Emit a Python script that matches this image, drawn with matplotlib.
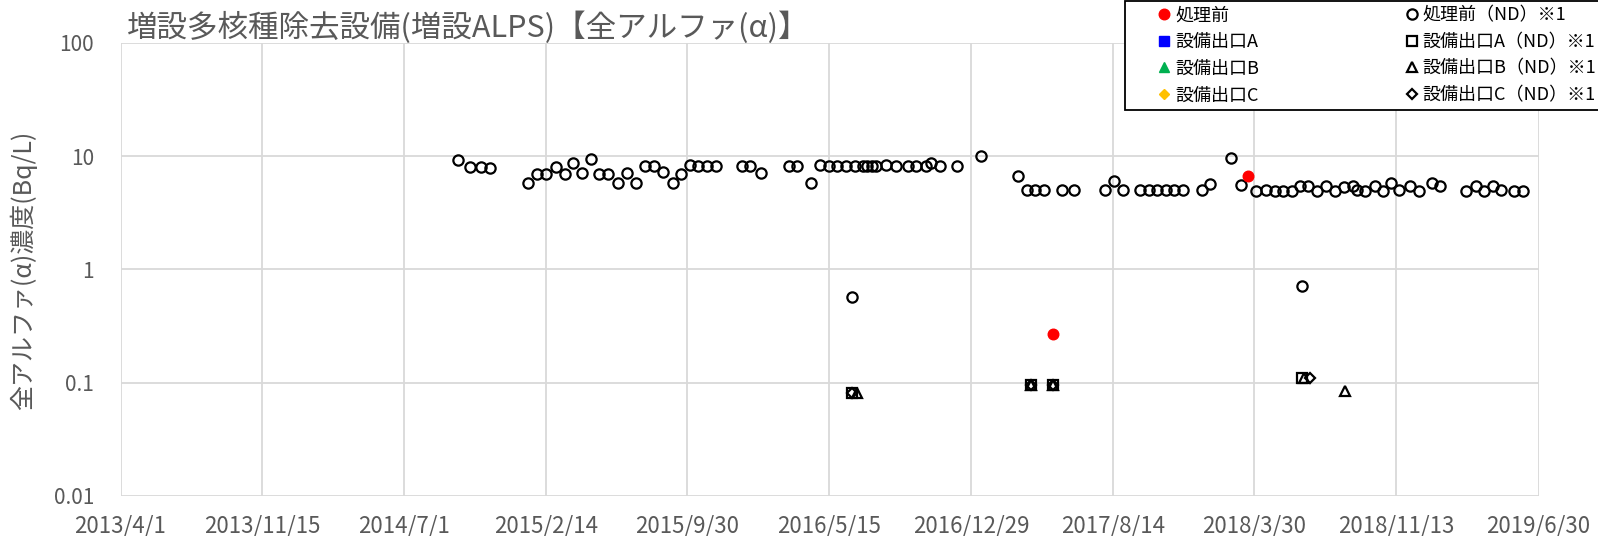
import matplotlib
matplotlib.use('Agg')
import matplotlib.pyplot as plt
import pandas as pd
from matplotlib.lines import Line2D
from matplotlib.legend_handler import HandlerLine2D

plt.rcParams['font.family'] = ['Noto Sans CJK JP', 'DejaVu Sans']

# x axis tick dates (also used as labels)
x_ticks = ['2013/4/1', '2013/11/15', '2014/7/1', '2015/2/14', '2015/9/30', '2016/5/15',
           '2016/12/29', '2017/8/14', '2018/3/30', '2018/11/13', '2019/6/30']
y_ticks = [0.01, 0.1, 1, 10, 100]
y_tick_labels = ['0.01', '0.1', '1', '10', '100']

# 処理前 (ND) - detection limit values
pre_nd_dates = [
    '2014-09-26', '2014-10-16', '2014-11-02', '2014-11-17', '2015-01-17', '2015-01-31',
    '2015-02-14', '2015-03-02', '2015-03-17', '2015-03-30', '2015-04-13', '2015-04-28',
    '2015-05-11', '2015-05-25', '2015-06-10', '2015-06-25', '2015-07-09', '2015-07-23',
    '2015-08-07', '2015-08-21', '2015-09-06', '2015-09-20', '2015-10-04', '2015-10-17',
    '2015-11-01', '2015-11-15', '2015-12-27', '2016-01-09', '2016-01-27', '2016-03-11',
    '2016-03-25', '2016-04-16', '2016-04-30', '2016-05-15', '2016-05-28', '2016-06-11',
    '2016-06-21', '2016-06-25', '2016-07-08', '2016-07-15', '2016-07-23', '2016-07-29',
    '2016-08-15', '2016-08-30', '2016-09-18', '2016-10-02', '2016-10-18', '2016-10-25',
    '2016-11-09', '2016-12-07', '2017-01-15', '2017-03-15', '2017-03-29', '2017-04-11',
    '2017-04-25', '2017-05-24', '2017-06-12', '2017-08-01', '2017-08-16', '2017-08-30',
    '2017-09-27', '2017-10-11', '2017-10-24', '2017-11-07', '2017-11-21', '2017-12-05',
    '2018-01-04', '2018-01-18', '2018-02-21', '2018-03-08', '2018-04-02', '2018-04-17',
    '2018-05-02', '2018-05-15', '2018-05-29', '2018-06-12', '2018-06-15', '2018-06-25',
    '2018-07-09', '2018-07-23', '2018-08-07', '2018-08-21', '2018-09-04', '2018-09-11',
    '2018-09-24', '2018-10-10', '2018-10-23', '2018-11-05', '2018-11-18', '2018-12-05',
    '2018-12-19', '2019-01-10', '2019-01-23', '2019-03-06', '2019-03-21', '2019-04-04',
    '2019-04-18', '2019-04-30', '2019-05-21', '2019-06-05']
pre_nd_values = [
    9.2, 8.0, 8.0, 7.9, 5.8, 7.0,
    7.0, 8.0, 7.0, 8.7, 7.1, 9.5,
    7.0, 7.0, 5.8, 7.1, 5.8, 8.2,
    8.2, 7.3, 5.8, 7.0, 8.4, 8.2,
    8.2, 8.2, 8.2, 8.2, 7.1, 8.2,
    8.2, 5.8, 8.4, 8.2, 8.2, 8.2,
    0.57, 8.2, 8.2, 8.2, 8.2, 8.2,
    8.4, 8.1, 8.2, 8.2, 8.2, 8.6,
    8.2, 8.2, 10.0, 6.7, 5.0, 5.0,
    5.0, 5.0, 5.0, 5.0, 6.0, 5.0,
    5.0, 5.0, 5.0, 5.0, 5.0, 5.0,
    5.0, 5.7, 9.7, 5.5, 4.9, 5.0,
    4.9, 4.9, 4.9, 5.4, 0.71, 5.4,
    4.9, 5.4, 4.9, 5.3, 5.4, 5.0,
    4.9, 5.4, 4.9, 5.8, 5.0, 5.4,
    4.9, 5.8, 5.4, 4.9, 5.4, 4.9,
    5.4, 5.0, 4.9, 4.9]

# 処理前 (detected)
pre_dates = ['2017-05-10', '2018-03-20']
pre_values = [0.27, 6.7]

# 設備出口 A/B/C (ND)
out_a_nd_dates = ['2016-06-21', '2017-04-05', '2017-05-10', '2018-06-14']
out_a_nd_values = [0.081, 0.096, 0.095, 0.11]
out_b_nd_dates = ['2016-06-28', '2017-04-05', '2017-05-10', '2018-06-18', '2018-08-22']
out_b_nd_values = [0.081, 0.096, 0.095, 0.11, 0.085]
out_c_nd_dates = ['2016-06-21', '2017-04-05', '2017-05-10', '2018-06-27']
out_c_nd_values = [0.081, 0.096, 0.095, 0.11]

GRAY = '#595959'
GRID = '#D9D9D9'

fig = plt.figure(figsize=(15.98, 5.36), dpi=100)
ax = fig.add_axes([120.5 / 1598, 1 - 496 / 536, 1418 / 1598, 453.3 / 536])

d = pd.to_datetime
ax.plot(d(pre_dates), pre_values, ls='none', marker='o', ms=7.6, color='#FF0000',
        mec='#FF0000', label='処理前', zorder=4)
ax.plot([], [], ls='none', marker='s', ms=7, color='#0000FF', label='設備出口A')
ax.plot([], [], ls='none', marker='^', ms=7.5, color='#00B050', label='設備出口B')
ax.plot([], [], ls='none', marker='D', ms=5.5, color='#FFC000', label='設備出口C')
ax.plot(d(pre_nd_dates), pre_nd_values, ls='none', marker='o', ms=7.4, mfc='none',
        mec='black', mew=1.6, label='処理前（ND）※1', zorder=3)
ax.plot(d(out_a_nd_dates), out_a_nd_values, ls='none', marker='s', ms=7, mfc='none',
        mec='black', mew=1.6, label='設備出口A（ND）※1', zorder=3)
ax.plot(d(out_b_nd_dates), out_b_nd_values, ls='none', marker='^', ms=7.5, mfc='none',
        mec='black', mew=1.6, label='設備出口B（ND）※1', zorder=3)
ax.plot(d(out_c_nd_dates), out_c_nd_values, ls='none', marker='D', ms=5.5, mfc='none',
        mec='black', mew=1.6, label='設備出口C（ND）※1', zorder=3)

ax.set_yscale('log')
ax.set_ylim(0.01, 100)
ax.set_yticks(y_ticks)
ax.set_yticklabels(y_tick_labels)
ax.minorticks_off()

tick_pos = pd.to_datetime(x_ticks, format='%Y/%m/%d')
ax.set_xlim(tick_pos[0], tick_pos[-1])
ax.set_xticks(tick_pos)
ax.set_xticklabels(x_ticks)

ax.grid(True, color=GRID, lw=1.3)
ax.set_axisbelow(True)
for s in ax.spines.values():
    s.set_visible(False)
ax.tick_params(axis='both', length=0, labelcolor=GRAY)
ax.tick_params(axis='y', pad=19, labelsize=15)
ax.tick_params(axis='x', pad=13, labelsize=16)

fig.text(127 / 1598, 1 - 27.5 / 536, '増設多核種除去設備(増設ALPS)【全アルファ(α)】',
         fontsize=22, color=GRAY, ha='left', va='center')
fig.text(23 / 1598, 1 - 270 / 536, '全アルファ(α)濃度(Bq/L)', fontsize=18,
         color=GRAY, rotation=90, ha='center', va='center')

handles, labels = ax.get_legend_handles_labels()
leg = fig.legend(handles, labels, loc='upper left', bbox_to_anchor=(1125 / 1598, 1 - 1 / 536),
                 bbox_transform=fig.transFigure, ncol=2, fontsize=13, borderpad=0.3,
                 handlelength=2.27, handletextpad=0.2, columnspacing=6.6, labelspacing=0.48,
                 borderaxespad=0, fancybox=False, framealpha=1,
                 handler_map={Line2D: HandlerLine2D(xpad=1.5)})
leg.get_frame().set_edgecolor('black')
leg.get_frame().set_linewidth(1.3)

fig.savefig('out.png', dpi=100)
